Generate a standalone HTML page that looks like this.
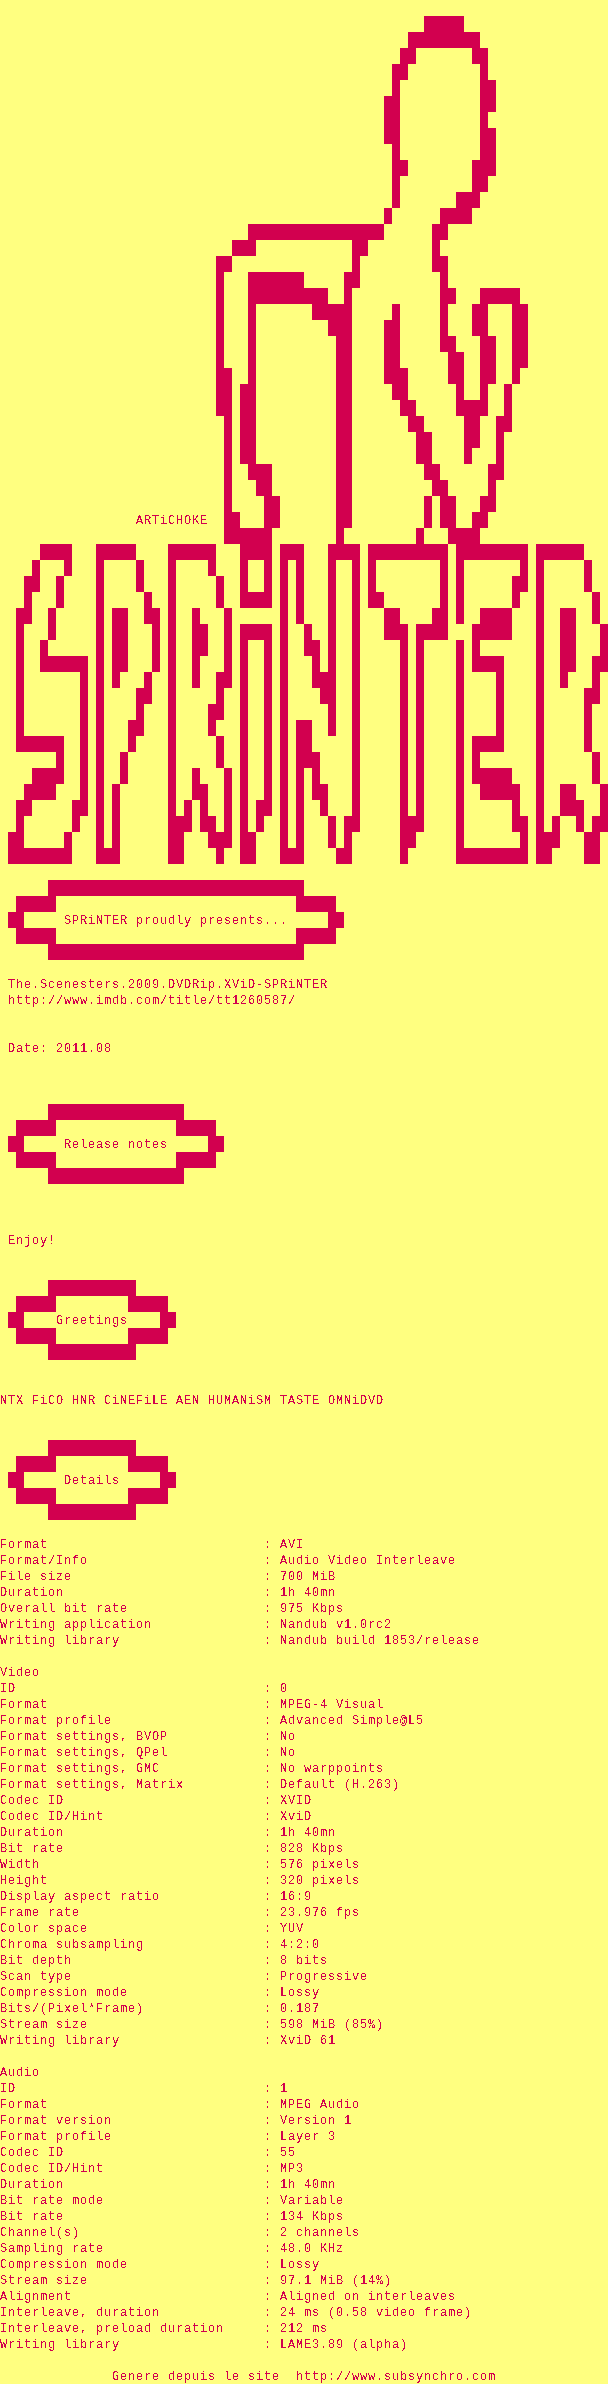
<!DOCTYPE html>
<html><head><meta charset="utf-8"><style>
html,body{margin:0;padding:0;background:#FFFF80;}
body{width:608px;height:2384px;position:relative;overflow:hidden;}
svg{position:absolute;left:0;top:0;}
.t{position:absolute;font-family:"Liberation Mono",monospace;font-size:12.0px;line-height:16px;height:16px;white-space:pre;color:#D2004F;letter-spacing:0.798828125px;transform:scaleX(1.0);transform-origin:0 0;}
</style></head><body>
<svg width="608" height="2384" fill="#D2004F" shape-rendering="crispEdges">
<rect x="424" y="16" width="40" height="16"/>
<rect x="408" y="32" width="72" height="16"/>
<rect x="400" y="48" width="16" height="16"/>
<rect x="472" y="48" width="16" height="16"/>
<rect x="392" y="64" width="16" height="16"/>
<rect x="480" y="64" width="8" height="16"/>
<rect x="392" y="80" width="8" height="16"/>
<rect x="480" y="80" width="16" height="16"/>
<rect x="384" y="96" width="16" height="16"/>
<rect x="480" y="96" width="16" height="16"/>
<rect x="384" y="112" width="16" height="16"/>
<rect x="480" y="112" width="8" height="16"/>
<rect x="384" y="128" width="16" height="16"/>
<rect x="480" y="128" width="16" height="16"/>
<rect x="392" y="144" width="8" height="16"/>
<rect x="480" y="144" width="16" height="16"/>
<rect x="392" y="160" width="16" height="16"/>
<rect x="472" y="160" width="24" height="16"/>
<rect x="392" y="176" width="8" height="16"/>
<rect x="472" y="176" width="16" height="16"/>
<rect x="392" y="192" width="8" height="16"/>
<rect x="456" y="192" width="24" height="16"/>
<rect x="384" y="208" width="8" height="16"/>
<rect x="440" y="208" width="32" height="16"/>
<rect x="248" y="224" width="136" height="16"/>
<rect x="432" y="224" width="16" height="16"/>
<rect x="232" y="240" width="24" height="16"/>
<rect x="352" y="240" width="16" height="16"/>
<rect x="432" y="240" width="8" height="16"/>
<rect x="216" y="256" width="16" height="16"/>
<rect x="352" y="256" width="8" height="16"/>
<rect x="432" y="256" width="16" height="16"/>
<rect x="216" y="272" width="8" height="16"/>
<rect x="248" y="272" width="56" height="16"/>
<rect x="344" y="272" width="16" height="16"/>
<rect x="440" y="272" width="8" height="16"/>
<rect x="216" y="288" width="8" height="16"/>
<rect x="248" y="288" width="80" height="16"/>
<rect x="344" y="288" width="8" height="16"/>
<rect x="440" y="288" width="16" height="16"/>
<rect x="480" y="288" width="40" height="16"/>
<rect x="216" y="304" width="8" height="16"/>
<rect x="248" y="304" width="8" height="16"/>
<rect x="312" y="304" width="40" height="16"/>
<rect x="392" y="304" width="8" height="16"/>
<rect x="440" y="304" width="8" height="16"/>
<rect x="472" y="304" width="16" height="16"/>
<rect x="512" y="304" width="16" height="16"/>
<rect x="216" y="320" width="8" height="16"/>
<rect x="248" y="320" width="8" height="16"/>
<rect x="328" y="320" width="24" height="16"/>
<rect x="384" y="320" width="16" height="16"/>
<rect x="440" y="320" width="8" height="16"/>
<rect x="472" y="320" width="16" height="16"/>
<rect x="512" y="320" width="16" height="16"/>
<rect x="216" y="336" width="8" height="16"/>
<rect x="248" y="336" width="8" height="16"/>
<rect x="336" y="336" width="16" height="16"/>
<rect x="384" y="336" width="16" height="16"/>
<rect x="440" y="336" width="16" height="16"/>
<rect x="480" y="336" width="16" height="16"/>
<rect x="512" y="336" width="16" height="16"/>
<rect x="216" y="352" width="8" height="16"/>
<rect x="248" y="352" width="8" height="16"/>
<rect x="336" y="352" width="16" height="16"/>
<rect x="384" y="352" width="16" height="16"/>
<rect x="448" y="352" width="16" height="16"/>
<rect x="480" y="352" width="16" height="16"/>
<rect x="512" y="352" width="16" height="16"/>
<rect x="216" y="368" width="16" height="16"/>
<rect x="248" y="368" width="8" height="16"/>
<rect x="336" y="368" width="16" height="16"/>
<rect x="384" y="368" width="24" height="16"/>
<rect x="448" y="368" width="16" height="16"/>
<rect x="480" y="368" width="16" height="16"/>
<rect x="512" y="368" width="8" height="16"/>
<rect x="216" y="384" width="16" height="16"/>
<rect x="240" y="384" width="16" height="16"/>
<rect x="336" y="384" width="16" height="16"/>
<rect x="392" y="384" width="16" height="16"/>
<rect x="456" y="384" width="8" height="16"/>
<rect x="480" y="384" width="8" height="16"/>
<rect x="504" y="384" width="8" height="16"/>
<rect x="216" y="400" width="16" height="16"/>
<rect x="240" y="400" width="16" height="16"/>
<rect x="336" y="400" width="16" height="16"/>
<rect x="400" y="400" width="16" height="16"/>
<rect x="456" y="400" width="32" height="16"/>
<rect x="504" y="400" width="8" height="16"/>
<rect x="224" y="416" width="8" height="16"/>
<rect x="240" y="416" width="16" height="16"/>
<rect x="336" y="416" width="16" height="16"/>
<rect x="408" y="416" width="16" height="16"/>
<rect x="464" y="416" width="16" height="16"/>
<rect x="496" y="416" width="16" height="16"/>
<rect x="224" y="432" width="8" height="16"/>
<rect x="240" y="432" width="16" height="16"/>
<rect x="336" y="432" width="16" height="16"/>
<rect x="416" y="432" width="16" height="16"/>
<rect x="464" y="432" width="16" height="16"/>
<rect x="496" y="432" width="8" height="16"/>
<rect x="224" y="448" width="8" height="16"/>
<rect x="240" y="448" width="16" height="16"/>
<rect x="336" y="448" width="16" height="16"/>
<rect x="416" y="448" width="16" height="16"/>
<rect x="464" y="448" width="8" height="16"/>
<rect x="496" y="448" width="8" height="16"/>
<rect x="224" y="464" width="8" height="16"/>
<rect x="248" y="464" width="24" height="16"/>
<rect x="336" y="464" width="16" height="16"/>
<rect x="424" y="464" width="16" height="16"/>
<rect x="488" y="464" width="16" height="16"/>
<rect x="224" y="480" width="8" height="16"/>
<rect x="256" y="480" width="16" height="16"/>
<rect x="336" y="480" width="16" height="16"/>
<rect x="432" y="480" width="16" height="16"/>
<rect x="488" y="480" width="8" height="16"/>
<rect x="224" y="496" width="8" height="16"/>
<rect x="264" y="496" width="16" height="16"/>
<rect x="336" y="496" width="16" height="16"/>
<rect x="424" y="496" width="8" height="16"/>
<rect x="440" y="496" width="16" height="16"/>
<rect x="480" y="496" width="16" height="16"/>
<rect x="224" y="512" width="16" height="16"/>
<rect x="264" y="512" width="16" height="16"/>
<rect x="336" y="512" width="16" height="16"/>
<rect x="424" y="512" width="8" height="16"/>
<rect x="440" y="512" width="16" height="16"/>
<rect x="472" y="512" width="16" height="16"/>
<rect x="224" y="528" width="48" height="16"/>
<rect x="336" y="528" width="8" height="16"/>
<rect x="416" y="528" width="8" height="16"/>
<rect x="448" y="528" width="32" height="16"/>
<rect x="40" y="544" width="32" height="16"/>
<rect x="96" y="544" width="40" height="16"/>
<rect x="168" y="544" width="48" height="16"/>
<rect x="240" y="544" width="32" height="16"/>
<rect x="280" y="544" width="24" height="16"/>
<rect x="328" y="544" width="32" height="16"/>
<rect x="368" y="544" width="80" height="16"/>
<rect x="456" y="544" width="72" height="16"/>
<rect x="536" y="544" width="48" height="16"/>
<rect x="32" y="560" width="8" height="16"/>
<rect x="64" y="560" width="8" height="16"/>
<rect x="96" y="560" width="8" height="16"/>
<rect x="136" y="560" width="8" height="16"/>
<rect x="168" y="560" width="8" height="16"/>
<rect x="208" y="560" width="8" height="16"/>
<rect x="240" y="560" width="8" height="16"/>
<rect x="264" y="560" width="8" height="16"/>
<rect x="280" y="560" width="8" height="16"/>
<rect x="296" y="560" width="8" height="16"/>
<rect x="328" y="560" width="8" height="16"/>
<rect x="352" y="560" width="8" height="16"/>
<rect x="368" y="560" width="8" height="16"/>
<rect x="440" y="560" width="8" height="16"/>
<rect x="456" y="560" width="8" height="16"/>
<rect x="520" y="560" width="8" height="16"/>
<rect x="536" y="560" width="8" height="16"/>
<rect x="584" y="560" width="8" height="16"/>
<rect x="24" y="576" width="16" height="16"/>
<rect x="56" y="576" width="8" height="16"/>
<rect x="96" y="576" width="8" height="16"/>
<rect x="136" y="576" width="8" height="16"/>
<rect x="168" y="576" width="8" height="16"/>
<rect x="216" y="576" width="8" height="16"/>
<rect x="240" y="576" width="8" height="16"/>
<rect x="264" y="576" width="8" height="16"/>
<rect x="280" y="576" width="8" height="16"/>
<rect x="296" y="576" width="8" height="16"/>
<rect x="328" y="576" width="8" height="16"/>
<rect x="352" y="576" width="8" height="16"/>
<rect x="368" y="576" width="8" height="16"/>
<rect x="440" y="576" width="8" height="16"/>
<rect x="456" y="576" width="8" height="16"/>
<rect x="512" y="576" width="16" height="16"/>
<rect x="536" y="576" width="8" height="16"/>
<rect x="584" y="576" width="8" height="16"/>
<rect x="24" y="592" width="8" height="16"/>
<rect x="56" y="592" width="8" height="16"/>
<rect x="96" y="592" width="8" height="16"/>
<rect x="144" y="592" width="8" height="16"/>
<rect x="168" y="592" width="8" height="16"/>
<rect x="216" y="592" width="8" height="16"/>
<rect x="240" y="592" width="32" height="16"/>
<rect x="280" y="592" width="8" height="16"/>
<rect x="296" y="592" width="8" height="16"/>
<rect x="328" y="592" width="8" height="16"/>
<rect x="352" y="592" width="8" height="16"/>
<rect x="368" y="592" width="16" height="16"/>
<rect x="440" y="592" width="8" height="16"/>
<rect x="456" y="592" width="8" height="16"/>
<rect x="512" y="592" width="8" height="16"/>
<rect x="536" y="592" width="8" height="16"/>
<rect x="592" y="592" width="8" height="16"/>
<rect x="16" y="608" width="16" height="16"/>
<rect x="48" y="608" width="8" height="16"/>
<rect x="96" y="608" width="8" height="16"/>
<rect x="112" y="608" width="16" height="16"/>
<rect x="144" y="608" width="16" height="16"/>
<rect x="168" y="608" width="8" height="16"/>
<rect x="192" y="608" width="8" height="16"/>
<rect x="224" y="608" width="8" height="16"/>
<rect x="280" y="608" width="8" height="16"/>
<rect x="296" y="608" width="8" height="16"/>
<rect x="328" y="608" width="8" height="16"/>
<rect x="352" y="608" width="8" height="16"/>
<rect x="384" y="608" width="16" height="16"/>
<rect x="432" y="608" width="16" height="16"/>
<rect x="456" y="608" width="8" height="16"/>
<rect x="480" y="608" width="32" height="16"/>
<rect x="536" y="608" width="8" height="16"/>
<rect x="560" y="608" width="16" height="16"/>
<rect x="592" y="608" width="8" height="16"/>
<rect x="16" y="624" width="8" height="16"/>
<rect x="48" y="624" width="8" height="16"/>
<rect x="96" y="624" width="8" height="16"/>
<rect x="112" y="624" width="16" height="16"/>
<rect x="152" y="624" width="8" height="16"/>
<rect x="168" y="624" width="8" height="16"/>
<rect x="192" y="624" width="16" height="16"/>
<rect x="224" y="624" width="8" height="16"/>
<rect x="240" y="624" width="32" height="16"/>
<rect x="280" y="624" width="8" height="16"/>
<rect x="304" y="624" width="8" height="16"/>
<rect x="328" y="624" width="8" height="16"/>
<rect x="352" y="624" width="8" height="16"/>
<rect x="384" y="624" width="24" height="16"/>
<rect x="416" y="624" width="32" height="16"/>
<rect x="472" y="624" width="40" height="16"/>
<rect x="536" y="624" width="8" height="16"/>
<rect x="560" y="624" width="16" height="16"/>
<rect x="600" y="624" width="8" height="16"/>
<rect x="16" y="640" width="8" height="16"/>
<rect x="40" y="640" width="8" height="16"/>
<rect x="96" y="640" width="8" height="16"/>
<rect x="112" y="640" width="16" height="16"/>
<rect x="152" y="640" width="8" height="16"/>
<rect x="168" y="640" width="8" height="16"/>
<rect x="192" y="640" width="16" height="16"/>
<rect x="224" y="640" width="8" height="16"/>
<rect x="240" y="640" width="8" height="16"/>
<rect x="264" y="640" width="8" height="16"/>
<rect x="280" y="640" width="8" height="16"/>
<rect x="304" y="640" width="16" height="16"/>
<rect x="328" y="640" width="8" height="16"/>
<rect x="352" y="640" width="8" height="16"/>
<rect x="400" y="640" width="8" height="16"/>
<rect x="416" y="640" width="8" height="16"/>
<rect x="456" y="640" width="8" height="16"/>
<rect x="472" y="640" width="8" height="16"/>
<rect x="536" y="640" width="8" height="16"/>
<rect x="560" y="640" width="16" height="16"/>
<rect x="600" y="640" width="8" height="16"/>
<rect x="16" y="656" width="8" height="16"/>
<rect x="40" y="656" width="48" height="16"/>
<rect x="96" y="656" width="8" height="16"/>
<rect x="112" y="656" width="16" height="16"/>
<rect x="152" y="656" width="8" height="16"/>
<rect x="168" y="656" width="8" height="16"/>
<rect x="192" y="656" width="8" height="16"/>
<rect x="224" y="656" width="8" height="16"/>
<rect x="240" y="656" width="8" height="16"/>
<rect x="264" y="656" width="8" height="16"/>
<rect x="280" y="656" width="8" height="16"/>
<rect x="312" y="656" width="8" height="16"/>
<rect x="328" y="656" width="8" height="16"/>
<rect x="352" y="656" width="8" height="16"/>
<rect x="400" y="656" width="8" height="16"/>
<rect x="416" y="656" width="8" height="16"/>
<rect x="456" y="656" width="8" height="16"/>
<rect x="472" y="656" width="32" height="16"/>
<rect x="536" y="656" width="8" height="16"/>
<rect x="560" y="656" width="16" height="16"/>
<rect x="592" y="656" width="16" height="16"/>
<rect x="16" y="672" width="8" height="16"/>
<rect x="80" y="672" width="8" height="16"/>
<rect x="96" y="672" width="8" height="16"/>
<rect x="112" y="672" width="8" height="16"/>
<rect x="144" y="672" width="8" height="16"/>
<rect x="168" y="672" width="8" height="16"/>
<rect x="192" y="672" width="8" height="16"/>
<rect x="216" y="672" width="16" height="16"/>
<rect x="240" y="672" width="8" height="16"/>
<rect x="264" y="672" width="8" height="16"/>
<rect x="280" y="672" width="8" height="16"/>
<rect x="312" y="672" width="24" height="16"/>
<rect x="352" y="672" width="8" height="16"/>
<rect x="400" y="672" width="8" height="16"/>
<rect x="416" y="672" width="8" height="16"/>
<rect x="456" y="672" width="8" height="16"/>
<rect x="496" y="672" width="8" height="16"/>
<rect x="536" y="672" width="8" height="16"/>
<rect x="560" y="672" width="8" height="16"/>
<rect x="592" y="672" width="8" height="16"/>
<rect x="16" y="688" width="8" height="16"/>
<rect x="80" y="688" width="8" height="16"/>
<rect x="96" y="688" width="8" height="16"/>
<rect x="136" y="688" width="16" height="16"/>
<rect x="168" y="688" width="8" height="16"/>
<rect x="216" y="688" width="8" height="16"/>
<rect x="240" y="688" width="8" height="16"/>
<rect x="264" y="688" width="8" height="16"/>
<rect x="280" y="688" width="8" height="16"/>
<rect x="320" y="688" width="16" height="16"/>
<rect x="352" y="688" width="8" height="16"/>
<rect x="400" y="688" width="8" height="16"/>
<rect x="416" y="688" width="8" height="16"/>
<rect x="456" y="688" width="8" height="16"/>
<rect x="496" y="688" width="8" height="16"/>
<rect x="536" y="688" width="8" height="16"/>
<rect x="584" y="688" width="16" height="16"/>
<rect x="16" y="704" width="8" height="16"/>
<rect x="80" y="704" width="8" height="16"/>
<rect x="96" y="704" width="8" height="16"/>
<rect x="136" y="704" width="8" height="16"/>
<rect x="168" y="704" width="8" height="16"/>
<rect x="208" y="704" width="16" height="16"/>
<rect x="240" y="704" width="8" height="16"/>
<rect x="264" y="704" width="8" height="16"/>
<rect x="280" y="704" width="8" height="16"/>
<rect x="328" y="704" width="8" height="16"/>
<rect x="352" y="704" width="8" height="16"/>
<rect x="400" y="704" width="8" height="16"/>
<rect x="416" y="704" width="8" height="16"/>
<rect x="456" y="704" width="8" height="16"/>
<rect x="496" y="704" width="8" height="16"/>
<rect x="536" y="704" width="8" height="16"/>
<rect x="584" y="704" width="8" height="16"/>
<rect x="16" y="720" width="8" height="16"/>
<rect x="80" y="720" width="8" height="16"/>
<rect x="96" y="720" width="8" height="16"/>
<rect x="128" y="720" width="16" height="16"/>
<rect x="168" y="720" width="8" height="16"/>
<rect x="208" y="720" width="8" height="16"/>
<rect x="240" y="720" width="8" height="16"/>
<rect x="264" y="720" width="8" height="16"/>
<rect x="280" y="720" width="8" height="16"/>
<rect x="296" y="720" width="16" height="16"/>
<rect x="328" y="720" width="8" height="16"/>
<rect x="352" y="720" width="8" height="16"/>
<rect x="400" y="720" width="8" height="16"/>
<rect x="416" y="720" width="8" height="16"/>
<rect x="456" y="720" width="8" height="16"/>
<rect x="496" y="720" width="8" height="16"/>
<rect x="536" y="720" width="8" height="16"/>
<rect x="584" y="720" width="8" height="16"/>
<rect x="16" y="736" width="48" height="16"/>
<rect x="80" y="736" width="8" height="16"/>
<rect x="96" y="736" width="8" height="16"/>
<rect x="128" y="736" width="8" height="16"/>
<rect x="168" y="736" width="8" height="16"/>
<rect x="216" y="736" width="8" height="16"/>
<rect x="240" y="736" width="8" height="16"/>
<rect x="264" y="736" width="8" height="16"/>
<rect x="280" y="736" width="8" height="16"/>
<rect x="296" y="736" width="16" height="16"/>
<rect x="352" y="736" width="8" height="16"/>
<rect x="400" y="736" width="8" height="16"/>
<rect x="416" y="736" width="8" height="16"/>
<rect x="456" y="736" width="8" height="16"/>
<rect x="472" y="736" width="32" height="16"/>
<rect x="536" y="736" width="8" height="16"/>
<rect x="584" y="736" width="8" height="16"/>
<rect x="56" y="752" width="8" height="16"/>
<rect x="80" y="752" width="8" height="16"/>
<rect x="96" y="752" width="8" height="16"/>
<rect x="120" y="752" width="8" height="16"/>
<rect x="168" y="752" width="8" height="16"/>
<rect x="216" y="752" width="8" height="16"/>
<rect x="240" y="752" width="8" height="16"/>
<rect x="264" y="752" width="8" height="16"/>
<rect x="280" y="752" width="8" height="16"/>
<rect x="296" y="752" width="24" height="16"/>
<rect x="352" y="752" width="8" height="16"/>
<rect x="400" y="752" width="8" height="16"/>
<rect x="416" y="752" width="8" height="16"/>
<rect x="456" y="752" width="8" height="16"/>
<rect x="472" y="752" width="8" height="16"/>
<rect x="536" y="752" width="8" height="16"/>
<rect x="592" y="752" width="8" height="16"/>
<rect x="32" y="768" width="32" height="16"/>
<rect x="80" y="768" width="8" height="16"/>
<rect x="96" y="768" width="8" height="16"/>
<rect x="120" y="768" width="8" height="16"/>
<rect x="168" y="768" width="8" height="16"/>
<rect x="192" y="768" width="8" height="16"/>
<rect x="224" y="768" width="8" height="16"/>
<rect x="240" y="768" width="8" height="16"/>
<rect x="264" y="768" width="8" height="16"/>
<rect x="280" y="768" width="8" height="16"/>
<rect x="296" y="768" width="8" height="16"/>
<rect x="312" y="768" width="8" height="16"/>
<rect x="352" y="768" width="8" height="16"/>
<rect x="400" y="768" width="8" height="16"/>
<rect x="416" y="768" width="8" height="16"/>
<rect x="456" y="768" width="8" height="16"/>
<rect x="472" y="768" width="40" height="16"/>
<rect x="536" y="768" width="8" height="16"/>
<rect x="592" y="768" width="8" height="16"/>
<rect x="24" y="784" width="32" height="16"/>
<rect x="80" y="784" width="8" height="16"/>
<rect x="96" y="784" width="8" height="16"/>
<rect x="112" y="784" width="8" height="16"/>
<rect x="168" y="784" width="8" height="16"/>
<rect x="192" y="784" width="16" height="16"/>
<rect x="224" y="784" width="8" height="16"/>
<rect x="240" y="784" width="8" height="16"/>
<rect x="264" y="784" width="8" height="16"/>
<rect x="280" y="784" width="8" height="16"/>
<rect x="296" y="784" width="8" height="16"/>
<rect x="312" y="784" width="16" height="16"/>
<rect x="352" y="784" width="8" height="16"/>
<rect x="400" y="784" width="8" height="16"/>
<rect x="416" y="784" width="8" height="16"/>
<rect x="456" y="784" width="8" height="16"/>
<rect x="480" y="784" width="40" height="16"/>
<rect x="536" y="784" width="8" height="16"/>
<rect x="560" y="784" width="16" height="16"/>
<rect x="600" y="784" width="8" height="16"/>
<rect x="16" y="800" width="16" height="16"/>
<rect x="72" y="800" width="16" height="16"/>
<rect x="96" y="800" width="8" height="16"/>
<rect x="112" y="800" width="8" height="16"/>
<rect x="168" y="800" width="8" height="16"/>
<rect x="184" y="800" width="8" height="16"/>
<rect x="200" y="800" width="8" height="16"/>
<rect x="224" y="800" width="8" height="16"/>
<rect x="240" y="800" width="8" height="16"/>
<rect x="256" y="800" width="16" height="16"/>
<rect x="280" y="800" width="8" height="16"/>
<rect x="296" y="800" width="8" height="16"/>
<rect x="320" y="800" width="8" height="16"/>
<rect x="352" y="800" width="8" height="16"/>
<rect x="400" y="800" width="8" height="16"/>
<rect x="416" y="800" width="8" height="16"/>
<rect x="456" y="800" width="8" height="16"/>
<rect x="512" y="800" width="8" height="16"/>
<rect x="536" y="800" width="8" height="16"/>
<rect x="560" y="800" width="24" height="16"/>
<rect x="600" y="800" width="8" height="16"/>
<rect x="16" y="816" width="8" height="16"/>
<rect x="72" y="816" width="8" height="16"/>
<rect x="96" y="816" width="8" height="16"/>
<rect x="112" y="816" width="8" height="16"/>
<rect x="168" y="816" width="24" height="16"/>
<rect x="200" y="816" width="16" height="16"/>
<rect x="224" y="816" width="8" height="16"/>
<rect x="240" y="816" width="8" height="16"/>
<rect x="256" y="816" width="8" height="16"/>
<rect x="280" y="816" width="8" height="16"/>
<rect x="296" y="816" width="8" height="16"/>
<rect x="328" y="816" width="8" height="16"/>
<rect x="344" y="816" width="16" height="16"/>
<rect x="400" y="816" width="24" height="16"/>
<rect x="456" y="816" width="8" height="16"/>
<rect x="512" y="816" width="16" height="16"/>
<rect x="536" y="816" width="8" height="16"/>
<rect x="552" y="816" width="8" height="16"/>
<rect x="576" y="816" width="8" height="16"/>
<rect x="592" y="816" width="16" height="16"/>
<rect x="8" y="832" width="16" height="16"/>
<rect x="64" y="832" width="8" height="16"/>
<rect x="96" y="832" width="8" height="16"/>
<rect x="112" y="832" width="8" height="16"/>
<rect x="168" y="832" width="16" height="16"/>
<rect x="208" y="832" width="24" height="16"/>
<rect x="240" y="832" width="16" height="16"/>
<rect x="280" y="832" width="8" height="16"/>
<rect x="296" y="832" width="8" height="16"/>
<rect x="328" y="832" width="8" height="16"/>
<rect x="344" y="832" width="8" height="16"/>
<rect x="400" y="832" width="16" height="16"/>
<rect x="456" y="832" width="8" height="16"/>
<rect x="520" y="832" width="8" height="16"/>
<rect x="536" y="832" width="24" height="16"/>
<rect x="584" y="832" width="16" height="16"/>
<rect x="8" y="848" width="64" height="16"/>
<rect x="96" y="848" width="24" height="16"/>
<rect x="168" y="848" width="16" height="16"/>
<rect x="216" y="848" width="8" height="16"/>
<rect x="240" y="848" width="16" height="16"/>
<rect x="280" y="848" width="24" height="16"/>
<rect x="336" y="848" width="16" height="16"/>
<rect x="400" y="848" width="8" height="16"/>
<rect x="456" y="848" width="72" height="16"/>
<rect x="536" y="848" width="16" height="16"/>
<rect x="584" y="848" width="16" height="16"/>
<rect x="48" y="880" width="256" height="16"/>
<rect x="16" y="896" width="40" height="16"/>
<rect x="296" y="896" width="40" height="16"/>
<rect x="8" y="912" width="16" height="16"/>
<rect x="328" y="912" width="16" height="16"/>
<rect x="16" y="928" width="40" height="16"/>
<rect x="296" y="928" width="40" height="16"/>
<rect x="48" y="944" width="256" height="16"/>
<rect x="48" y="1104" width="136" height="16"/>
<rect x="16" y="1120" width="40" height="16"/>
<rect x="176" y="1120" width="40" height="16"/>
<rect x="8" y="1136" width="16" height="16"/>
<rect x="208" y="1136" width="16" height="16"/>
<rect x="16" y="1152" width="40" height="16"/>
<rect x="176" y="1152" width="40" height="16"/>
<rect x="48" y="1168" width="136" height="16"/>
<rect x="48" y="1280" width="88" height="16"/>
<rect x="16" y="1296" width="40" height="16"/>
<rect x="128" y="1296" width="40" height="16"/>
<rect x="8" y="1312" width="16" height="16"/>
<rect x="160" y="1312" width="16" height="16"/>
<rect x="16" y="1328" width="40" height="16"/>
<rect x="128" y="1328" width="40" height="16"/>
<rect x="48" y="1344" width="88" height="16"/>
<rect x="48" y="1440" width="88" height="16"/>
<rect x="16" y="1456" width="40" height="16"/>
<rect x="128" y="1456" width="40" height="16"/>
<rect x="8" y="1472" width="16" height="16"/>
<rect x="160" y="1472" width="16" height="16"/>
<rect x="16" y="1488" width="40" height="16"/>
<rect x="128" y="1488" width="40" height="16"/>
<rect x="48" y="1504" width="88" height="16"/>
</svg>
<svg width="0" height="0" style="position:absolute"><filter id="th" x="0" y="0" width="100%" height="100%"><feComponentTransfer><feFuncA type="discrete" tableValues="0 1"/></feComponentTransfer></filter></svg>
<div id="txt" style="position:absolute;left:0;top:0;width:608px;height:2384px;filter:url(#th)">
<div class="t" style="top:513.0px;left:136.0px">ARTiCHOKE</div>
<div class="t" style="top:913.0px;left:64.0px">SPRiNTER proudly presents...</div>
<div class="t" style="top:977.0px;left:8.0px">The.Scenesters.2009.DVDRip.XViD-SPRiNTER</div>
<div class="t" style="top:993.0px;left:8.0px">http://www.imdb.com/title/tt1260587/</div>
<div class="t" style="top:1041.0px;left:8.0px">Date: 2011.08</div>
<div class="t" style="top:1137.0px;left:64.0px">Release notes</div>
<div class="t" style="top:1233.0px;left:8.0px">Enjoy!</div>
<div class="t" style="top:1313.0px;left:56.0px">Greetings</div>
<div class="t" style="top:1393.0px;left:0.0px">NTX FiCO HNR CiNEFiLE AEN HUMANiSM TASTE OMNiDVD</div>
<div class="t" style="top:1473.0px;left:64.0px">Details</div>
<div class="t" style="top:1537.0px;left:0.0px">Format                           : AVI</div>
<div class="t" style="top:1553.0px;left:0.0px">Format/Info                      : Audio Video Interleave</div>
<div class="t" style="top:1569.0px;left:0.0px">File size                        : 700 MiB</div>
<div class="t" style="top:1585.0px;left:0.0px">Duration                         : 1h 40mn</div>
<div class="t" style="top:1601.0px;left:0.0px">Overall bit rate                 : 975 Kbps</div>
<div class="t" style="top:1617.0px;left:0.0px">Writing application              : Nandub v1.0rc2</div>
<div class="t" style="top:1633.0px;left:0.0px">Writing library                  : Nandub build 1853/release</div>
<div class="t" style="top:1665.0px;left:0.0px">Video</div>
<div class="t" style="top:1681.0px;left:0.0px">ID                               : 0</div>
<div class="t" style="top:1697.0px;left:0.0px">Format                           : MPEG-4 Visual</div>
<div class="t" style="top:1713.0px;left:0.0px">Format profile                   : Advanced Simple@L5</div>
<div class="t" style="top:1729.0px;left:0.0px">Format settings, BVOP            : No</div>
<div class="t" style="top:1745.0px;left:0.0px">Format settings, QPel            : No</div>
<div class="t" style="top:1761.0px;left:0.0px">Format settings, GMC             : No warppoints</div>
<div class="t" style="top:1777.0px;left:0.0px">Format settings, Matrix          : Default (H.263)</div>
<div class="t" style="top:1793.0px;left:0.0px">Codec ID                         : XVID</div>
<div class="t" style="top:1809.0px;left:0.0px">Codec ID/Hint                    : XviD</div>
<div class="t" style="top:1825.0px;left:0.0px">Duration                         : 1h 40mn</div>
<div class="t" style="top:1841.0px;left:0.0px">Bit rate                         : 828 Kbps</div>
<div class="t" style="top:1857.0px;left:0.0px">Width                            : 576 pixels</div>
<div class="t" style="top:1873.0px;left:0.0px">Height                           : 320 pixels</div>
<div class="t" style="top:1889.0px;left:0.0px">Display aspect ratio             : 16:9</div>
<div class="t" style="top:1905.0px;left:0.0px">Frame rate                       : 23.976 fps</div>
<div class="t" style="top:1921.0px;left:0.0px">Color space                      : YUV</div>
<div class="t" style="top:1937.0px;left:0.0px">Chroma subsampling               : 4:2:0</div>
<div class="t" style="top:1953.0px;left:0.0px">Bit depth                        : 8 bits</div>
<div class="t" style="top:1969.0px;left:0.0px">Scan type                        : Progressive</div>
<div class="t" style="top:1985.0px;left:0.0px">Compression mode                 : Lossy</div>
<div class="t" style="top:2001.0px;left:0.0px">Bits/(Pixel*Frame)               : 0.187</div>
<div class="t" style="top:2017.0px;left:0.0px">Stream size                      : 598 MiB (85%)</div>
<div class="t" style="top:2033.0px;left:0.0px">Writing library                  : XviD 61</div>
<div class="t" style="top:2065.0px;left:0.0px">Audio</div>
<div class="t" style="top:2081.0px;left:0.0px">ID                               : 1</div>
<div class="t" style="top:2097.0px;left:0.0px">Format                           : MPEG Audio</div>
<div class="t" style="top:2113.0px;left:0.0px">Format version                   : Version 1</div>
<div class="t" style="top:2129.0px;left:0.0px">Format profile                   : Layer 3</div>
<div class="t" style="top:2145.0px;left:0.0px">Codec ID                         : 55</div>
<div class="t" style="top:2161.0px;left:0.0px">Codec ID/Hint                    : MP3</div>
<div class="t" style="top:2177.0px;left:0.0px">Duration                         : 1h 40mn</div>
<div class="t" style="top:2193.0px;left:0.0px">Bit rate mode                    : Variable</div>
<div class="t" style="top:2209.0px;left:0.0px">Bit rate                         : 134 Kbps</div>
<div class="t" style="top:2225.0px;left:0.0px">Channel(s)                       : 2 channels</div>
<div class="t" style="top:2241.0px;left:0.0px">Sampling rate                    : 48.0 KHz</div>
<div class="t" style="top:2257.0px;left:0.0px">Compression mode                 : Lossy</div>
<div class="t" style="top:2273.0px;left:0.0px">Stream size                      : 97.1 MiB (14%)</div>
<div class="t" style="top:2289.0px;left:0.0px">Alignment                        : Aligned on interleaves</div>
<div class="t" style="top:2305.0px;left:0.0px">Interleave, duration             : 24 ms (0.58 video frame)</div>
<div class="t" style="top:2321.0px;left:0.0px">Interleave, preload duration     : 212 ms</div>
<div class="t" style="top:2337.0px;left:0.0px">Writing library                  : LAME3.89 (alpha)</div>
<div class="t" style="top:2369.0px;left:112.0px">Genere depuis le site  http://www.subsynchro.com</div>
</div>
</body></html>
